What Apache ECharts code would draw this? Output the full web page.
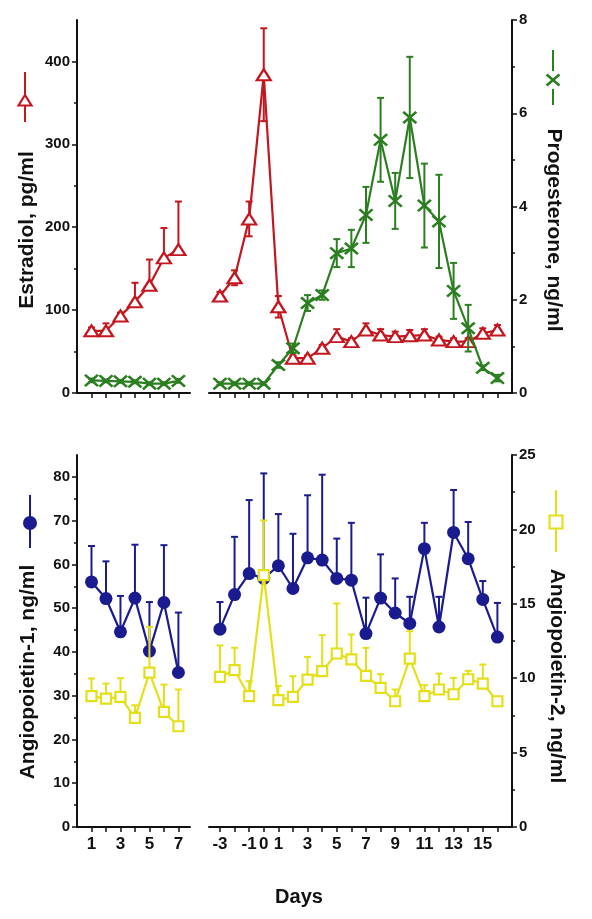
<!DOCTYPE html>
<html>
<head>
<meta charset="utf-8">
<script src="https://cdn.jsdelivr.net/npm/echarts@6/dist/echarts.min.js"></script>
<style>
html,body{margin:0;padding:0;background:#fff;}
#chart{width:592px;height:919px;}
</style>
</head>
<body>
<div id="chart"></div>
<script>
// ---- data ----
const daysA = [1, 2, 3, 4, 5, 6, 7];
const daysB = [-3, -2, -1, 0, 1, 2, 3, 4, 5, 6, 7, 8, 9, 10, 11, 12, 13, 14, 15, 16];

const estradiolA = [75, 75, 93, 110, 130, 163, 173];
const estradiolErrUpA = [4, 9, 4, 23, 31, 36, 58];
const estradiolErrDnA = [3, 0, 0, 0, 0, 0, 0];
const estradiolB = [117, 139, 210, 384, 104, 42, 42, 54, 68, 62, 76, 70, 68, 69, 70, 64, 62, 62, 72, 76];
const estradiolErrUpB = [5, 9, 21, 56, 13, 3, 3, 4, 9, 4, 8, 7, 6, 7, 7, 4, 4, 4, 6, 6];
const estradiolErrDnB = [4, 9, 21, 56, 13, 3, 3, 3, 3, 3, 3, 3, 3, 3, 3, 3, 3, 3, 3, 3];

const progA = [0.27, 0.26, 0.25, 0.24, 0.2, 0.2, 0.26];
const progErrA = [0.04, 0.03, 0.03, 0.03, 0.03, 0.03, 0.04];
const progB = [0.2, 0.2, 0.2, 0.2, 0.6, 0.96, 1.93, 2.1, 3.0, 3.1, 3.82, 5.43, 4.12, 5.91, 4.02, 3.68, 2.19, 1.39, 0.54, 0.32];
const progErrB = [0.03, 0.03, 0.03, 0.03, 0.06, 0.1, 0.17, 0.1, 0.3, 0.4, 0.6, 0.9, 0.6, 1.3, 0.9, 1.0, 0.6, 0.5, 0.05, 0.07];

const ang1A = [56.0, 52.2, 44.6, 52.3, 40.2, 51.3, 35.3];
const ang1ErrA = [8.2, 8.5, 8.2, 12.2, 11.2, 13.1, 13.7];
const ang1B = [45.2, 53.1, 57.9, 56.8, 59.7, 54.5, 61.5, 61.0, 56.8, 56.4, 44.2, 52.3, 48.9, 46.5, 63.6, 45.7, 67.3, 61.3, 52.0, 43.4];
const ang1ErrB = [6.2, 13.2, 16.8, 24.0, 11.8, 12.5, 14.3, 19.5, 9.1, 13.1, 8.2, 10.0, 7.9, 6.1, 5.9, 6.9, 9.7, 8.4, 4.2, 7.8];

const ang2A = [8.79, 8.63, 8.74, 7.33, 10.38, 7.74, 6.77];
const ang2ErrA = [1.19, 1.01, 1.26, 0.85, 3.07, 1.83, 2.47];
const ang2B = [10.09, 10.54, 8.79, 16.93, 8.52, 8.74, 9.91, 10.47, 11.66, 11.26, 10.16, 9.35, 8.45, 11.32, 8.79, 9.24, 8.92, 9.93, 9.64, 8.45];
const ang2ErrB = [2.11, 1.5, 1.01, 3.67, 0.96, 1.39, 1.52, 2.42, 3.36, 1.68, 1.88, 0.92, 0.79, 1.84, 0.74, 1.07, 1.1, 0.56, 1.28, 0];

// tick / label values
const xTicksA = [1, 2, 3, 4, 5, 6, 7];
const xLabelsA = [1, 3, 5, 7];
const xTicksB = [-3, -2, -1, 0, 1, 2, 3, 4, 5, 6, 7, 8, 9, 10, 11, 12, 13, 14, 15, 16];
const xLabelsB = [-3, -1, 0, 1, 3, 5, 7, 9, 11, 13, 15];
const estTicks = [0, 100, 200, 300, 400];
const estMinor = [50, 150, 250, 350];
const progTicks = [0, 2, 4, 6, 8];
const progMinor = [1, 3, 5, 7];
const ang1Ticks = [0, 10, 20, 30, 40, 50, 60, 70, 80];
const ang1Minor = [5, 15, 25, 35, 45, 55, 65, 75];
const ang2Ticks = [0, 5, 10, 15, 20, 25];
const ang2Minor = [2.5, 7.5, 12.5, 17.5, 22.5];

// ---- styles ----
const FONT = 'Liberation Sans';
const redC = '#c3161e';
const greenC = '#2c7f20';
const blueC = '#1a1b8e';
const yellowC = '#e3e01a';
const axisC = '#111';

const chart = echarts.init(document.getElementById('chart'), null, {renderer: 'canvas'});

function xAxisDef(grid, min, max, ticks, labels, showLabels) {
  return {
    type: 'value', gridIndex: grid, min: min, max: max, position: 'bottom',
    axisLine: {show: true, onZero: false, lineStyle: {color: axisC, width: 2}},
    axisTick: {show: true, length: 5, inside: false, customValues: ticks, lineStyle: {color: axisC, width: 1.5}},
    axisLabel: {show: showLabels, customValues: labels, margin: 9, fontFamily: FONT, fontWeight: 'bold', fontSize: 17, color: axisC},
    splitLine: {show: false}
  };
}
function yAxisDef(grid, pos, min, max, ticks, show) {
  return {
    type: 'value', gridIndex: grid, position: pos, min: min, max: max, show: show,
    axisLine: {show: true, lineStyle: {color: axisC, width: 2}},
    axisTick: {show: true, length: 5, customValues: ticks, lineStyle: {color: axisC, width: 1.5}},
    axisLabel: {show: true, customValues: ticks, margin: 7, fontFamily: FONT, fontWeight: 'bold', fontSize: 15, color: axisC},
    splitLine: {show: false}
  };
}
function yMinorDef(grid, pos, min, max, ticks) {
  return {
    type: 'value', gridIndex: grid, position: pos, min: min, max: max,
    axisLine: {show: false},
    axisTick: {show: true, length: 3, customValues: ticks, lineStyle: {color: axisC, width: 1.5}},
    axisLabel: {show: false},
    splitLine: {show: false}
  };
}

const xPath = 'path://M0,1.3 L1.3,0 L5,3.7 L8.7,0 L10,1.3 L6.3,5 L10,8.7 L8.7,10 L5,6.3 L1.3,10 L0,8.7 L3.7,5 Z';

function lineSeries(xi, yi, xs, ys, color, symbol, size, fill, bw, z) {
  return {
    type: 'line', xAxisIndex: xi, yAxisIndex: yi, z: z,
    data: xs.map((d, i) => [d, ys[i]]),
    symbol: symbol, symbolSize: size, showSymbol: true,
    lineStyle: {color: color, width: 2.2},
    itemStyle: {color: fill, borderColor: color, borderWidth: bw, opacity: 1},
    emphasis: {disabled: true},
    animation: false
  };
}
function errSeries(xi, yi, xs, ys, up, dn, color, z) {
  return {
    type: 'custom', xAxisIndex: xi, yAxisIndex: yi, z: z, clip: false,
    data: xs.map((d, i) => [d, ys[i], up[i], dn ? dn[i] : 0]),
    encode: {x: 0, y: 1},
    renderItem: function (params, api) {
      const x = api.value(0), y = api.value(1), u = api.value(2), d = api.value(3);
      const top = api.coord([x, y + u]);
      const bot = api.coord([x, y - d]);
      const cw = 3.5;
      const st = {stroke: color, lineWidth: 2};
      const ch = [];
      ch.push({type: 'line', shape: {x1: top[0], y1: top[1], x2: bot[0], y2: bot[1]}, style: st});
      if (u > 0) ch.push({type: 'line', shape: {x1: top[0] - cw, y1: top[1], x2: top[0] + cw, y2: top[1]}, style: st});
      if (d > 0) ch.push({type: 'line', shape: {x1: bot[0] - cw, y1: bot[1], x2: bot[0] + cw, y2: bot[1]}, style: st});
      return {type: 'group', children: ch};
    },
    animation: false
  };
}

const grids = [
  {left: 77, top: 20, width: 113, height: 373},
  {left: 209, top: 20, width: 303, height: 373},
  {left: 77, top: 455, width: 113, height: 372},
  {left: 209, top: 455, width: 303, height: 372}
];

const xAxes = [
  xAxisDef(0, 0, 7.8, xTicksA, xLabelsA, false),
  xAxisDef(1, -3.75, 17, xTicksB, xLabelsB, false),
  xAxisDef(2, 0, 7.8, xTicksA, xLabelsA, true),
  xAxisDef(3, -3.75, 17, xTicksB, xLabelsB, true)
];

const yAxes = [
  yAxisDef(0, 'left', 0, 450, estTicks, true),     // 0
  yAxisDef(0, 'right', 0, 8, progTicks, false),    // 1
  yAxisDef(1, 'left', 0, 450, estTicks, false),    // 2
  yAxisDef(1, 'right', 0, 8, progTicks, true),     // 3
  yAxisDef(2, 'left', 0, 85, ang1Ticks, true),     // 4
  yAxisDef(2, 'right', 0, 25, ang2Ticks, false),   // 5
  yAxisDef(3, 'left', 0, 85, ang1Ticks, false),    // 6
  yAxisDef(3, 'right', 0, 25, ang2Ticks, true),    // 7
  yMinorDef(0, 'left', 0, 450, estMinor),          // 8
  yMinorDef(1, 'right', 0, 8, progMinor),          // 9
  yMinorDef(2, 'left', 0, 85, ang1Minor),          // 10
  yMinorDef(3, 'right', 0, 25, ang2Minor)          // 11
];

const series = [
  // top left
  errSeries(0, 0, daysA, estradiolA, estradiolErrUpA, estradiolErrDnA, redC, 2),
  lineSeries(0, 0, daysA, estradiolA, redC, 'triangle', [14, 11], '#fff', 2.2, 3),
  errSeries(0, 1, daysA, progA, progErrA, progErrA, greenC, 4),
  lineSeries(0, 1, daysA, progA, greenC, xPath, [15, 13], greenC, 0, 5),
  // top right
  errSeries(1, 2, daysB, estradiolB, estradiolErrUpB, estradiolErrDnB, redC, 2),
  lineSeries(1, 2, daysB, estradiolB, redC, 'triangle', [14, 11], '#fff', 2.2, 3),
  errSeries(1, 3, daysB, progB, progErrB, progErrB, greenC, 4),
  lineSeries(1, 3, daysB, progB, greenC, xPath, [15, 13], greenC, 0, 5),
  // bottom left
  errSeries(2, 4, daysA, ang1A, ang1ErrA, null, blueC, 2),
  lineSeries(2, 4, daysA, ang1A, blueC, 'circle', 13, blueC, 0, 3),
  errSeries(2, 5, daysA, ang2A, ang2ErrA, null, yellowC, 4),
  lineSeries(2, 5, daysA, ang2A, yellowC, 'rect', 10, '#fff', 2.2, 5),
  // bottom right
  errSeries(3, 6, daysB, ang1B, ang1ErrB, null, blueC, 2),
  lineSeries(3, 6, daysB, ang1B, blueC, 'circle', 13, blueC, 0, 3),
  errSeries(3, 7, daysB, ang2B, ang2ErrB, null, yellowC, 4),
  lineSeries(3, 7, daysB, ang2B, yellowC, 'rect', 10, '#fff', 2.2, 5)
];

const nameFont = 'bold 21px "' + FONT + '"';
const graphic = [
  {type: 'text', x: 27, y: 230, rotation: Math.PI / 2, style: {text: 'Estradiol, pg/ml', font: nameFont, fill: axisC, align: 'center', verticalAlign: 'middle'}},
  {type: 'text', x: 554, y: 230, rotation: -Math.PI / 2, style: {text: 'Progesterone, ng/ml', font: nameFont, fill: axisC, align: 'center', verticalAlign: 'middle'}},
  {type: 'text', x: 28, y: 672, rotation: Math.PI / 2, style: {text: 'Angiopoietin-1, ng/ml', font: nameFont, fill: axisC, align: 'center', verticalAlign: 'middle'}},
  {type: 'text', x: 557, y: 676, rotation: -Math.PI / 2, style: {text: 'Angiopoietin-2, ng/ml', font: nameFont, fill: axisC, align: 'center', verticalAlign: 'middle'}},
  {type: 'text', x: 299, y: 897, style: {text: 'Days', font: 'bold 20px "' + FONT + '"', fill: axisC, align: 'center', verticalAlign: 'middle'}},
  // legend keys
  {type: 'line', shape: {x1: 25, y1: 72, x2: 25, y2: 122}, style: {stroke: redC, lineWidth: 2}},
  {type: 'polygon', shape: {points: [[18.5, 105.5], [31.5, 105.5], [25, 95]]}, style: {fill: '#fff', stroke: redC, lineWidth: 2.2}},
  {type: 'line', shape: {x1: 553, y1: 50, x2: 553, y2: 105}, style: {stroke: greenC, lineWidth: 2}},
  {type: 'rect', shape: {x: 545, y: 71, width: 16, height: 18}, style: {fill: '#fff'}},
  {type: 'line', shape: {x1: 546.5, y1: 74.5, x2: 559.5, y2: 85.5}, style: {stroke: greenC, lineWidth: 2.6}},
  {type: 'line', shape: {x1: 559.5, y1: 74.5, x2: 546.5, y2: 85.5}, style: {stroke: greenC, lineWidth: 2.6}},
  {type: 'line', shape: {x1: 30, y1: 495, x2: 30, y2: 548}, style: {stroke: blueC, lineWidth: 2}},
  {type: 'circle', shape: {cx: 30, cy: 523, r: 7}, style: {fill: blueC}},
  {type: 'line', shape: {x1: 556, y1: 490, x2: 556, y2: 552}, style: {stroke: yellowC, lineWidth: 2}},
  {type: 'rect', shape: {x: 549.5, y: 515.5, width: 13, height: 13}, style: {fill: '#fff', stroke: yellowC, lineWidth: 2.2}}
];

chart.setOption({
  animation: false,
  backgroundColor: '#fff',
  grid: grids,
  xAxis: xAxes,
  yAxis: yAxes,
  series: series,
  graphic: graphic
});
</script>
</body>
</html>
